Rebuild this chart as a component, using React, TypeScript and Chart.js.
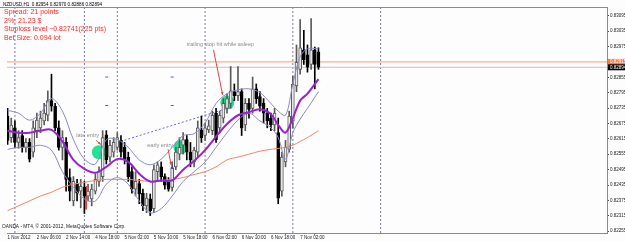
import React, { useEffect, useRef } from 'react';
import { Chart, registerables } from 'chart.js';
Chart.register(...registerables);

// ---- candle data (H1 bars, index 0 = 1 Nov 22:00) ----
const openP = [0.82704,0.82620,0.82658,0.82601,0.82628,0.82582,0.82601,0.82563,0.82647,0.82658,
 0.82685,0.82707,0.82764,0.82742,0.82658,0.82582,0.82601,0.82464,0.82373,0.82441,
 0.82411,0.82426,0.82392,0.82381,0.82411,0.82449,0.82468,0.82631,0.82544,0.82563,
 0.82582,0.82609,0.82582,0.82544,0.82487,0.82419,0.82441,0.82403,0.82354,0.82381,
 0.82343,0.82487,0.82506,0.82468,0.82449,0.82426,0.82506,0.82555,0.82590,0.82612,
 0.82563,0.82525,0.82563,0.82650,0.82628,0.82650,0.82647,0.82715,0.82658,0.82696,
 0.82734,0.82753,0.82799,0.82783,0.82799,0.82669,0.82753,0.82734,0.82810,0.82780,
 0.82753,0.82715,0.82696,0.82669,0.82639,0.82411,0.82525,0.82574,0.82685,0.82821,
 0.82886,0.82962,0.82943,0.82905,0.82962,0.82954];
const highP = [0.82734,0.82696,0.82685,0.82647,0.82647,0.82616,0.82616,0.82685,0.82715,0.82723,
 0.82753,0.82802,0.82867,0.82753,0.82685,0.82647,0.82620,0.82498,0.82468,0.82457,
 0.82457,0.82449,0.82438,0.82438,0.82479,0.82506,0.82647,0.82647,0.82609,0.82620,
 0.82639,0.82628,0.82601,0.82563,0.82506,0.82487,0.82457,0.82419,0.82403,0.82400,
 0.82514,0.82525,0.82525,0.82479,0.82464,0.82525,0.82582,0.82620,0.82639,0.82628,
 0.82601,0.82582,0.82685,0.82704,0.82677,0.82688,0.82723,0.82734,0.82723,0.82772,
 0.82791,0.82897,0.82829,0.82897,0.82810,0.82772,0.82772,0.82856,0.82829,0.82799,
 0.82772,0.82734,0.82715,0.82734,0.82696,0.82563,0.82609,0.82723,0.82859,0.82981,
 0.83080,0.83038,0.82981,0.83084,0.82973,0.82970];
const lowP = [0.82593,0.82601,0.82582,0.82578,0.82563,0.82563,0.82525,0.82544,0.82620,0.82639,
 0.82669,0.82685,0.82723,0.82647,0.82571,0.82533,0.82411,0.82373,0.82354,0.82373,
 0.82346,0.82324,0.82373,0.82354,0.82400,0.82430,0.82449,0.82517,0.82525,0.82544,
 0.82571,0.82544,0.82517,0.82449,0.82403,0.82392,0.82362,0.82335,0.82327,0.82316,
 0.82327,0.82449,0.82449,0.82419,0.82411,0.82411,0.82495,0.82533,0.82555,0.82533,
 0.82506,0.82506,0.82544,0.82601,0.82609,0.82639,0.82631,0.82601,0.82639,0.82677,
 0.82715,0.82734,0.82764,0.82764,0.82628,0.82647,0.82696,0.82715,0.82753,0.82723,
 0.82677,0.82658,0.82647,0.82647,0.82362,0.82392,0.82506,0.82563,0.82658,0.82799,
 0.82867,0.82905,0.82875,0.82886,0.82810,0.82886];
const closeP = [0.82609,0.82669,0.82601,0.82620,0.82582,0.82601,0.82536,0.82658,0.82688,0.82696,
 0.82715,0.82764,0.82742,0.82658,0.82582,0.82620,0.82457,0.82411,0.82449,0.82403,
 0.82430,0.82392,0.82411,0.82419,0.82457,0.82487,0.82620,0.82533,0.82590,0.82601,
 0.82620,0.82563,0.82536,0.82468,0.82419,0.82449,0.82400,0.82354,0.82384,0.82335,
 0.82495,0.82514,0.82468,0.82434,0.82419,0.82502,0.82563,0.82582,0.82612,0.82563,
 0.82533,0.82571,0.82658,0.82620,0.82658,0.82666,0.82707,0.82612,0.82707,0.82753,
 0.82772,0.82802,0.82783,0.82799,0.82658,0.82753,0.82730,0.82810,0.82772,0.82742,
 0.82715,0.82685,0.82669,0.82715,0.82384,0.82544,0.82582,0.82704,0.82829,0.82913,
 0.82970,0.82924,0.82894,0.82962,0.82905,0.82894];

// ---- indicators, sampled at bar indices ----
const indBars = [0,3,6,9,12,15,18,21,24,27,30,33,36,39,42,45,48,51,54,57,60,63,66,69,72,74,76,78,80,82,85];
const bbMid = [0.82647,0.82639,0.82639,0.82647,0.82650,0.82605,0.82533,0.82498,0.82483,0.82506,0.82536,0.82525,0.82479,0.82449,0.82453,0.82453,0.82495,0.82529,0.82571,0.82624,0.82673,0.82707,0.82719,0.82730,0.82711,0.82669,0.82639,0.82696,0.82764,0.82791,0.82848];
const bbUp = [0.82726,0.82715,0.82688,0.82715,0.82772,0.82723,0.82612,0.82536,0.82517,0.82612,0.82612,0.82582,0.82533,0.82514,0.82536,0.82582,0.82628,0.82635,0.82677,0.82753,0.82791,0.82806,0.82810,0.82795,0.82753,0.82723,0.82707,0.82829,0.82935,0.82966,0.82966];
const bbLow = [0.82574,0.82582,0.82582,0.82590,0.82571,0.82487,0.82426,0.82381,0.82373,0.82438,0.82464,0.82438,0.82373,0.82327,0.82343,0.82392,0.82449,0.82487,0.82525,0.82582,0.82639,0.82688,0.82715,0.82685,0.82658,0.82620,0.82536,0.82639,0.82692,0.82734,0.82799];
const maSlow = [0.82335,0.82354,0.82373,0.82392,0.82407,0.82426,0.82438,0.82445,0.82453,0.82457,0.82457,0.82457,0.82453,0.82449,0.82453,0.82457,0.82464,0.82476,0.82487,0.82506,0.82533,0.82544,0.82555,0.82567,0.82574,0.82578,0.82582,0.82590,0.82605,0.82620,0.82647];

// ---- axes ----
const xTickBars = [0,8,16,24,32,40,48,56,64,72,80];
const xTickLabels = ['1 Nov 2012','2 Nov 06:00','2 Nov 14:00','4 Nov 18:00','5 Nov 02:00','5 Nov 10:00','5 Nov 18:00','6 Nov 02:00','6 Nov 10:00','6 Nov 18:00','7 Nov 02:00'];
const yTickValues = [0.82255,0.82315,0.82375,0.82435,0.82495,0.82555,0.82615,0.82675,0.82735,0.82795,0.82855,0.82915,0.82975,0.83035,0.83095];
const separatorBars = [2,21,30,54,78,102];
const askPrice = 0.82915;
const bidPrice = 0.82894;

// ---- objects on chart ----
const trendBars = [30.9, 60.1];
const trendPrices = [0.82605, 0.82734];
const circleBars = [24.97, 47.27, 60.1];
const circlePrices = [0.82563, 0.82582, 0.82757];
const noteTexts = ['late entry', 'early entry', 'trailing stop hit while asleep'];
const noteBars = [18.8, 38.2, 49.0];
const notePrices = [0.82628, 0.82590, 0.82981];
const arrowFromBars = [24.2, 43.9, 56.3];
const arrowFromPrices = [0.82609, 0.82574, 0.82962];
const arrowToBars = [25.5, 44.7, 58.8];
const arrowToPrices = [0.82593, 0.82514, 0.82787];
const markBars = [27.1, 45.0];
const blueMarkPrice = 0.82856;
const redMarkPrice = 0.82745;
const dotBar = 45.0;
const dotPrice = 0.82502;
const redLineBar = 21.5;
const redLinePrices = [0.82430, 0.82340];

const headerText = 'NZDUSD,H1  0.82954 0.82970 0.82886 0.82894';
const infoLines = ['Spread: 21 points', '2%: 21.23 $', 'Stoploss level ~0.82741(225 pts)', 'Bet Size: 0.094 lot'];
const copyright = 'OANDA - MT4, \u00A9 2001-2012, MetaQuotes Software Corp.';

const X_MIN = -0.16;
const X_MAX = 163.9;
const Y_MIN = 0.82248;
const Y_MAX = 0.83129;
const FONT = 'Liberation Sans';

export default function App() {
  const ref = useRef<HTMLCanvasElement | null>(null);
  useEffect(() => {
    document.body.style.margin = '0';
    const canvas = ref.current!;
    const bars = openP.map((_, i) => i);
    const bull = bars.map(i => closeP[i] >= openP[i]);
    const line = (xs: number[], ys: number[], color: string, width: number, order: number, extra: any = {}) => ({
      type: 'line',
      data: xs.map((x, k) => ({ x, y: ys[k] })),
      borderColor: color,
      borderWidth: width,
      pointRadius: 0,
      fill: false,
      order,
      ...extra,
    });
    const datasets: any[] = [];
    datasets.push(line(indBars, bbMid, '#9b1fd6', 2, 1, { tension: 0.35 }));
    datasets.push(line(indBars, bbUp, '#8a8cc4', 1, 2, { tension: 0.35 }));
    datasets.push(line(indBars, bbLow, '#8a8cc4', 1, 2, { tension: 0.35 }));
    datasets.push(line(indBars, maSlow, '#f0876c', 1, 3, { tension: 0.35 }));
    datasets.push({
      type: 'bar',
      data: bars.map(i => ({ x: i, y: [Math.min(openP[i], closeP[i]), Math.max(openP[i], closeP[i])] })),
      backgroundColor: bars.map(i => (bull[i] ? '#ececec' : '#000000')),
      borderColor: bars.map(i => (bull[i] ? '#5a5a5a' : '#000000')),
      borderWidth: 1,
      borderSkipped: false,
      barThickness: 3,
      grouped: false,
      order: 4,
    });
    datasets.push({
      type: 'bar',
      data: bars.map(i => ({ x: i, y: [lowP[i], highP[i]] })),
      backgroundColor: bars.map(i => (bull[i] ? '#5a5a5a' : '#000000')),
      borderWidth: 0,
      barThickness: 1,
      grouped: false,
      order: 5,
    });
    datasets.push({
      type: 'scatter',
      data: circleBars.map((x, k) => ({ x, y: circlePrices[k] })),
      backgroundColor: '#22e391',
      borderWidth: 0,
      pointRadius: 7,
      order: 6,
    });
    datasets.push({
      type: 'scatter',
      data: markBars.map(x => ({ x, y: blueMarkPrice })),
      pointStyle: 'line',
      borderColor: '#5a5ad0',
      borderWidth: 1,
      pointRadius: 1.5,
      order: 6,
    });
    datasets.push({
      type: 'scatter',
      data: markBars.map(x => ({ x, y: redMarkPrice })),
      pointStyle: 'line',
      borderColor: '#e03030',
      borderWidth: 1,
      pointRadius: 1.5,
      order: 6,
    });
    datasets.push({
      type: 'scatter',
      data: [{ x: dotBar, y: dotPrice }],
      backgroundColor: '#2a3cff',
      borderWidth: 0,
      pointRadius: 1.5,
      pointStyle: 'rect',
      order: 0,
    });
    datasets.push(line(trendBars, trendPrices, '#6a6ae6', 1, 7, { borderDash: [2, 2] }));
    datasets.push(line([redLineBar, redLineBar], redLinePrices, '#e03a3a', 1, 7));
    datasets.push(line([X_MIN, X_MAX], [askPrice, askPrice], '#ff9a78', 1, 8));
    datasets.push(line([X_MIN, X_MAX], [bidPrice, bidPrice], '#c4c4c4', 1, 8));
    separatorBars.forEach(b => {
      datasets.push(line([b, b], [Y_MIN, Y_MAX], '#7b7b9c', 1, 9, { borderDash: [2, 2] }));
    });

    const overlay = {
      id: 'overlay',
      beforeDraw(chart: any) {
        const ctx = chart.ctx;
        ctx.save();
        ctx.fillStyle = '#fcfdfc';
        ctx.fillRect(0, 0, chart.width, chart.height);
        ctx.restore();
      },
      afterDatasetsDraw(chart: any) {
        const ctx = chart.ctx;
        const xs = chart.scales.x;
        const ys = chart.scales.y;
        ctx.save();
        // arrows
        ctx.strokeStyle = '#e04848';
        ctx.fillStyle = '#e04848';
        ctx.lineWidth = 1;
        arrowFromBars.forEach((b, k) => {
          const x1 = xs.getPixelForValue(b), y1 = ys.getPixelForValue(arrowFromPrices[k]);
          const x2 = xs.getPixelForValue(arrowToBars[k]), y2 = ys.getPixelForValue(arrowToPrices[k]);
          ctx.beginPath();
          ctx.moveTo(x1, y1);
          ctx.lineTo(x2, y2);
          ctx.stroke();
          const a = Math.atan2(y2 - y1, x2 - x1);
          ctx.beginPath();
          ctx.moveTo(x2, y2);
          ctx.lineTo(x2 - 3 * Math.cos(a - 0.5), y2 - 3 * Math.sin(a - 0.5));
          ctx.lineTo(x2 - 3 * Math.cos(a + 0.5), y2 - 3 * Math.sin(a + 0.5));
          ctx.closePath();
          ctx.fill();
        });
        // notes
        ctx.fillStyle = '#8c8c8c';
        ctx.font = `5.5px "${FONT}"`;
        ctx.textBaseline = 'middle';
        ctx.textAlign = 'left';
        noteTexts.forEach((t, k) => {
          ctx.fillText(t, xs.getPixelForValue(noteBars[k]), ys.getPixelForValue(notePrices[k]));
        });
        ctx.restore();
      },
      afterDraw(chart: any) {
        const ctx = chart.ctx;
        const ca = chart.chartArea;
        const ys = chart.scales.y;
        ctx.save();
        // top frame
        ctx.strokeStyle = '#8a8a8a';
        ctx.lineWidth = 1;
        ctx.beginPath();
        ctx.moveTo(0, ca.top + 0.5);
        ctx.lineTo(ca.right, ca.top + 0.5);
        ctx.stroke();
        // price boxes
        const boxes: [number, string][] = [[askPrice, '#ff7a3c'], [bidPrice, '#000000']];
        ctx.font = `4.5px "${FONT}"`;
        ctx.textBaseline = 'middle';
        ctx.textAlign = 'left';
        boxes.forEach(([p, c]) => {
          const y = ys.getPixelForValue(p);
          ctx.fillStyle = c;
          ctx.fillRect(ca.right + 1, y - 3, chart.width - ca.right - 1, 6);
          ctx.fillStyle = '#ffffff';
          ctx.fillText(p.toFixed(5), ca.right + 3, y);
        });
        // header
        ctx.fillStyle = '#000000';
        ctx.font = `4.6px "${FONT}"`;
        ctx.fillText(headerText, 3, 5);
        // info lines
        ctx.fillStyle = '#ff2a2a';
        ctx.font = `7px "${FONT}"`;
        infoLines.forEach((t, k) => ctx.fillText(t, 4, 12 + k * 8.7));
        // copyright
        ctx.fillStyle = '#202020';
        ctx.font = `4.8px "${FONT}"`;
        ctx.fillText(copyright, 2, 227);
        ctx.restore();
      },
    };

    const chart = new Chart(canvas, {
      type: 'line',
      data: { datasets },
      options: {
        animation: false,
        responsive: false,
        events: [],
        layout: { padding: { top: 1, left: 0, right: 0, bottom: 0 } },
        plugins: { legend: { display: false }, tooltip: { enabled: false } },
        scales: {
          x: {
            type: 'linear',
            min: X_MIN,
            max: X_MAX,
            offset: false,
            afterFit: (s: any) => { s.height = 8; },
            afterBuildTicks: (s: any) => { s.ticks = xTickBars.map(v => ({ value: v })); },
            ticks: {
              autoSkip: false,
              maxRotation: 0,
              minRotation: 0,
              align: 'start',
              padding: 0,
              color: '#202020',
              font: { family: FONT, size: 4.5 },
              callback: (v: any) => xTickLabels[xTickBars.indexOf(Number(v))] ?? '',
            },
            grid: { drawOnChartArea: false, drawTicks: true, tickLength: 2, color: '#707070' },
            border: { color: '#8a8a8a', width: 1 },
          },
          y: {
            type: 'linear',
            position: 'right',
            min: Y_MIN,
            max: Y_MAX,
            afterFit: (s: any) => { s.width = 18; },
            afterBuildTicks: (s: any) => { s.ticks = yTickValues.map(v => ({ value: v })); },
            ticks: {
              autoSkip: false,
              padding: 1,
              color: '#202020',
              font: { family: FONT, size: 4.5 },
              callback: (v: any) => Number(v).toFixed(5),
            },
            grid: { drawOnChartArea: false, drawTicks: true, tickLength: 2, color: '#505050' },
            border: { color: '#8a8a8a', width: 1 },
          },
        },
      } as any,
      plugins: [overlay],
    });
    return () => chart.destroy();
  }, []);
  return <canvas ref={ref} width={625} height={241} style={{ display: 'block' }} />;
}
